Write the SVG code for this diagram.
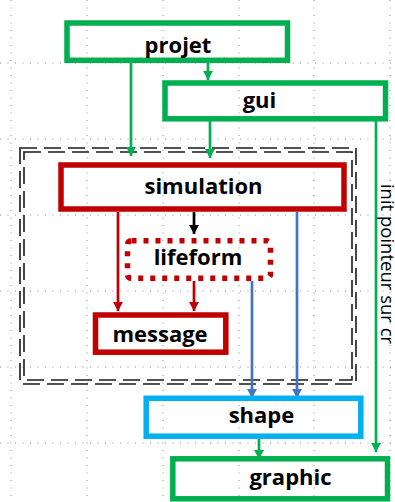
<svg xmlns="http://www.w3.org/2000/svg" width="395" height="502" viewBox="0 0 395 502">
<style>
.grid{stroke:#8c8c8c;stroke-width:1;stroke-dasharray:1 6.5;fill:none}
.node{fill:none;stroke-width:5.5}
.g{stroke:#00B050}
.r{stroke:#C00000}
.b{stroke:#00B0F0}
.lbl{font-family:"Open Sans","Liberation Sans",sans-serif;font-weight:bold;font-size:22px;fill:#000;text-anchor:middle}
.pkg{fill:none;stroke:#1a1a1a;stroke-width:1.6;stroke-dasharray:17 7}
.c{fill:none;stroke-width:2.7}
</style>
<defs>
<marker id="ag" markerUnits="userSpaceOnUse" markerWidth="11" markerHeight="10" refX="9" refY="5" orient="auto"><path d="M0,0 L9,5 L0,10 Z" fill="#00B050"/></marker>
<marker id="ar" markerUnits="userSpaceOnUse" markerWidth="11" markerHeight="10" refX="9" refY="5" orient="auto"><path d="M0,0 L9,5 L0,10 Z" fill="#C00000"/></marker>
<marker id="ab" markerUnits="userSpaceOnUse" markerWidth="11" markerHeight="10" refX="9" refY="5" orient="auto"><path d="M0,0 L9,5 L0,10 Z" fill="#4472C4"/></marker>
<marker id="ak" markerUnits="userSpaceOnUse" markerWidth="11" markerHeight="10" refX="9" refY="5" orient="auto"><path d="M0,0 L9,5 L0,10 Z" fill="#000"/></marker>
</defs>
<rect width="395" height="502" fill="#fff"/>
<g id="grid" class="grid">
<path d="M11,0V502M87,0V502M163,0V502M239,0V502M314,0V502M390,0V502"/>
<path d="M0,63H395M0,139H395M0,215H395M0,291H395M0,367H395M0,443H395"/>
</g>
<g id="package">
<rect class="pkg" x="20" y="148" width="336" height="236"/>
<rect class="pkg" x="24" y="152" width="328" height="228"/>
</g>
<g id="connectors">
<path class="c g" d="M208,63V80" marker-end="url(#ag)"/>
<path class="c g" d="M131,63V156" marker-end="url(#ag)"/>
<path class="c g" d="M210,121V158" marker-end="url(#ag)"/>
<path class="c g" d="M376,121V452" marker-end="url(#ag)"/>
<path class="c" stroke="#000" d="M194,212V234" marker-end="url(#ak)"/>
<path class="c r" d="M118,212V311" marker-end="url(#ar)"/>
<path class="c r" d="M194,281V311" marker-end="url(#ar)"/>
<path class="c" stroke="#4472C4" d="M252,281V398" marker-end="url(#ab)"/>
<path class="c" stroke="#4472C4" d="M297,212V398" marker-end="url(#ab)"/>
<path class="c g" d="M259,439V459" marker-end="url(#ag)"/>
<text x="381" y="264" transform="rotate(90 381 264)" font-family="'Open Sans','Liberation Sans',sans-serif" font-size="18.5" text-anchor="middle" fill="#000">init pointeur sur cr</text>
</g>
<g id="projet"><rect class="node g" x="67" y="23" width="220.5" height="37.3"/><text class="lbl" x="178" y="53">projet</text></g>
<g id="gui"><rect class="node g" x="165" y="83" width="220.5" height="35.8"/><text class="lbl" x="259.5" y="108">gui</text></g>
<g id="simulation"><rect class="node r" x="61" y="165" width="283" height="44"/><text class="lbl" x="203.5" y="194">simulation</text></g>
<g id="lifeform"><rect class="node r" x="127.5" y="240.8" width="143" height="37.5" rx="4" stroke-width="5" stroke-dasharray="5 7"/><text class="lbl" x="198" y="265">lifeform</text></g>
<g id="message"><rect class="node r" x="95.5" y="315" width="130.3" height="37.2"/><text class="lbl" x="160" y="341.5">message</text></g>
<g id="shape"><rect class="node b" x="146.2" y="398.3" width="214.6" height="37.9"/><text class="lbl" x="261.5" y="423.3">shape</text></g>
<g id="graphic"><rect class="node g" x="172.8" y="458.8" width="214.7" height="40"/><text class="lbl" x="290.5" y="485">graphic</text></g>
</svg>
